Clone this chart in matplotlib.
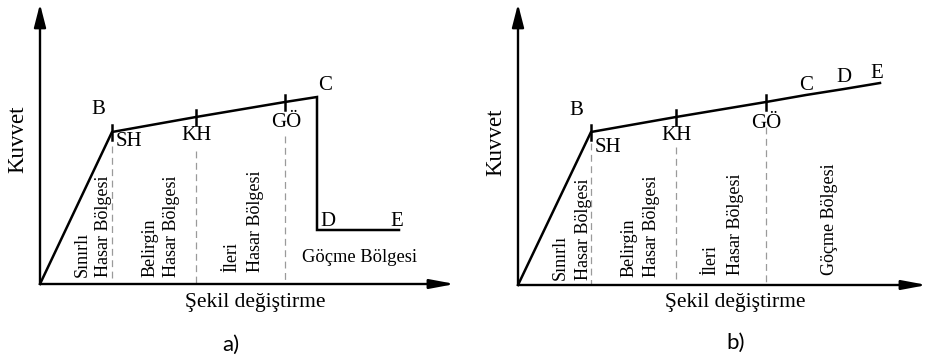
import matplotlib
matplotlib.use("Agg")
import matplotlib.pyplot as plt

# ---------------- data ----------------
# panel a) : force-deformation curve with strength drop at C
strain_a = [0.0, 7.2, 15.6, 24.5, 27.7, 27.7, 35.9]
force_a = [0.0, 15.2, 16.7, 18.2, 18.7, 5.4, 5.4]
# panel b) : force-deformation curve with continuous hardening
strain_b = [0.0, 7.3, 15.8, 24.8, 28.8, 32.6, 36.2]
force_b = [0.0, 15.3, 16.8, 18.3, 19.0, 19.6, 20.2]

point_letters = ["", "B", "", "", "C", "D", "E"]
perf_labels = ["SH", "KH", "GÖ"]          # performance levels at points 1..3
zone_labels = [["Sınırlı", "Hasar Bölgesi"],
               ["Belirgin", "Hasar Bölgesi"],
               ["İleri", "Hasar Bölgesi"]]
collapse_label = "Göçme Bölgesi"
ylabel = "Kuvvet"
xlabel = "Şekil değiştirme"
captions = ["a)", "b)"]

SERIF = "Liberation Serif"
SANS = "Lato"

fig = plt.figure(figsize=(9.28, 3.61), dpi=100)
ax_a = fig.add_axes([0.0, 0.0, 0.5, 1.0])
ax_b = fig.add_axes([0.5, 0.0, 0.5, 1.0])
ax_a.set_xlim(-4.0, 42.4); ax_a.set_ylim(-7.7, 28.4)
ax_b.set_xlim(-5.4, 41.0); ax_b.set_ylim(-7.6, 28.5)


def draw_panel(ax, xs, ys, letter_offsets, perf_offsets, dash_gap, zone_pos,
               collapse, yaxis_top, xaxis_tip, lab_pos, cap_pos, caption):
    ax.axis("off")
    # axes with arrows
    ax.annotate("", xy=(0, yaxis_top), xytext=(0, 0),
                arrowprops=dict(arrowstyle="-|>,head_length=1.4,head_width=0.36",
                                lw=1.7, color="black", shrinkA=0, shrinkB=0))
    ax.annotate("", xy=(xaxis_tip, 0), xytext=(0, 0),
                arrowprops=dict(arrowstyle="-|>,head_length=1.5,head_width=0.28",
                                lw=1.7, color="black", shrinkA=0, shrinkB=0))
    # curve
    ax.plot(xs, ys, color="black", lw=1.8, solid_joinstyle="miter", zorder=3)
    # performance ticks + dashed boundaries
    for k, name in enumerate(perf_labels):
        i = k + 1
        ax.plot([xs[i], xs[i]], [ys[i] - 0.75, ys[i] + 0.75], color="black", lw=1.8, zorder=4)
        ax.plot([xs[i], xs[i]], [ys[i] - dash_gap[k], 0], color="#9a9a9a", lw=0.9,
                dashes=(5.5, 3.6), zorder=1)
        ax.annotate(name, (xs[i], ys[i]), xytext=perf_offsets[k], textcoords="offset points",
                    ha="center", va="center", fontsize=15, family=SERIF)
    # point letters
    for i, name in enumerate(point_letters):
        if name:
            ax.annotate(name, (xs[i], ys[i]), xytext=letter_offsets[name],
                        textcoords="offset points", ha="center", va="center",
                        fontsize=15, family=SERIF)
    # zone labels (rotated)
    for (x1, x2, yb), (l1, l2) in zip(zone_pos, zone_labels):
        ax.text(x1, yb, l1, rotation=90, rotation_mode="anchor", ha="left", va="center",
                fontsize=13, family=SERIF)
        ax.text(x2, yb, l2, rotation=90, rotation_mode="anchor", ha="left", va="center",
                fontsize=13, family=SERIF)
    cx, cy, rot = collapse
    if rot:
        ax.text(cx, cy, collapse_label, rotation=90, rotation_mode="anchor", ha="left",
                va="center", fontsize=13, family=SERIF)
    else:
        ax.text(cx, cy, collapse_label, ha="center", va="center", fontsize=13.3, family=SERIF)
    ax.text(lab_pos[0][0], lab_pos[0][1], ylabel, rotation=90, ha="center", va="center",
            fontsize=16.5, family=SERIF)
    ax.text(lab_pos[1][0], lab_pos[1][1], xlabel, ha="center", va="center",
            fontsize=15.5, family=SERIF)
    ax.text(cap_pos[0], cap_pos[1], caption, ha="center", va="center",
            fontsize=16, family=SANS)


draw_panel(ax_a, strain_a, force_a,
           letter_offsets={"B": (-10, 16), "C": (5.8, 8.6), "D": (8, 5.8), "E": (-1.4, 5.8)},
           perf_offsets=[(12.2, -7.2), (0.7, -13), (0.7, -15)],
           dash_gap=[1.4, 3.4, 3.4],
           zone_pos=[(4.2, 6.4, 0.7), (11.0, 13.2, 0.7), (19.2, 21.6, 1.2)],
           collapse=(32.0, 2.6, False),
           yaxis_top=28.0, xaxis_tip=41.5,
           lab_pos=[(-2.2, 14.5), (21.5, -1.8)], cap_pos=(19.1, -6.1), caption=captions[0])

draw_panel(ax_b, strain_b, force_b,
           letter_offsets={"B": (-10.8, 15.8), "C": (0, 7.2), "D": (0, 8), "E": (-2, 7.2)},
           perf_offsets=[(12.2, -10.8), (0, -13), (0, -15.8)],
           dash_gap=[1.1, 3.0, 2.5],
           zone_pos=[(4.2, 6.5, 0.5), (11.1, 13.3, 0.8), (19.3, 21.8, 1.0)],
           collapse=(31.1, 1.0, True),
           yaxis_top=28.1, xaxis_tip=40.9,
           lab_pos=[(-2.2, 14.3), (21.7, -1.8)], cap_pos=(21.8, -5.8), caption=captions[1])

fig.savefig("out.png", dpi=100, facecolor="white")
